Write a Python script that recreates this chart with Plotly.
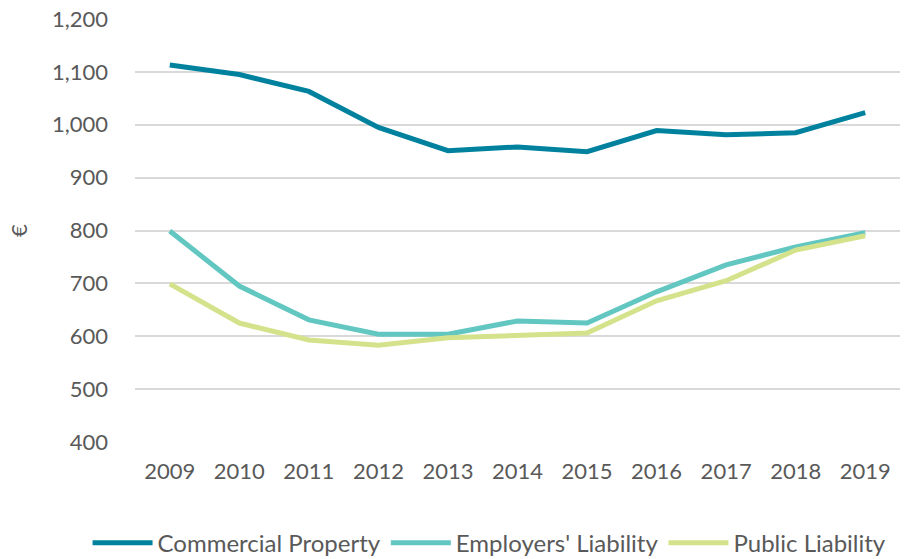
import plotly.graph_objects as go

years = ["2009", "2010", "2011", "2012", "2013", "2014", "2015", "2016", "2017", "2018", "2019"]
commercial_property = [1113, 1095, 1063, 995, 951, 958, 949, 989, 981, 985, 1023]
employers_liability = [799, 695, 631, 604, 604, 629, 625, 684, 735, 769, 796]
public_liability = [699, 625, 593, 583, 597, 602, 606, 667, 705, 763, 790]

series = [
    ("Commercial Property", commercial_property, "#00829E"),
    ("Employers' Liability", employers_liability, "#62C6C1"),
    ("Public Liability", public_liability, "#D4E38B"),
]

fig = go.Figure()
for name, vals, color in series:
    fig.add_trace(go.Scatter(x=years, y=vals, name=name, mode="lines",
                             line=dict(color=color, width=5)))

font_color = "#595959"
fig.update_layout(
    width=911, height=559,
    margin=dict(l=135, r=11, t=19, b=117, autoexpand=False),
    paper_bgcolor="white", plot_bgcolor="white",
    font=dict(family="Lato, Carlito, sans-serif", size=22, color=font_color),
    showlegend=True,
    legend=dict(orientation="h", x=-0.062, xanchor="left",
                y=-0.239, yanchor="middle",
                font=dict(size=24, color=font_color), itemwidth=60, tracegroupgap=0),
    xaxis=dict(type="category", range=[-0.5, 10.5], showgrid=False, zeroline=False,
               showline=False, ticks="", automargin=False, ticklabelstandoff=14,
               tickfont=dict(size=22, color=font_color)),
    yaxis=dict(range=[400, 1200], dtick=100, tickformat=",d", showgrid=True,
               gridcolor="#D9D9D9", gridwidth=1.5, zeroline=False, showline=False,
               ticks="", ticklabelstandoff=26, automargin=False,
               tickfont=dict(size=22, color=font_color),
               title=dict(text="€", standoff=18, font=dict(size=22, color=font_color))),
)

fig.write_html("out.html", config={"displayModeBar": False},
               post_script="document.body.style.margin='0';document.body.style.overflow='hidden';")
